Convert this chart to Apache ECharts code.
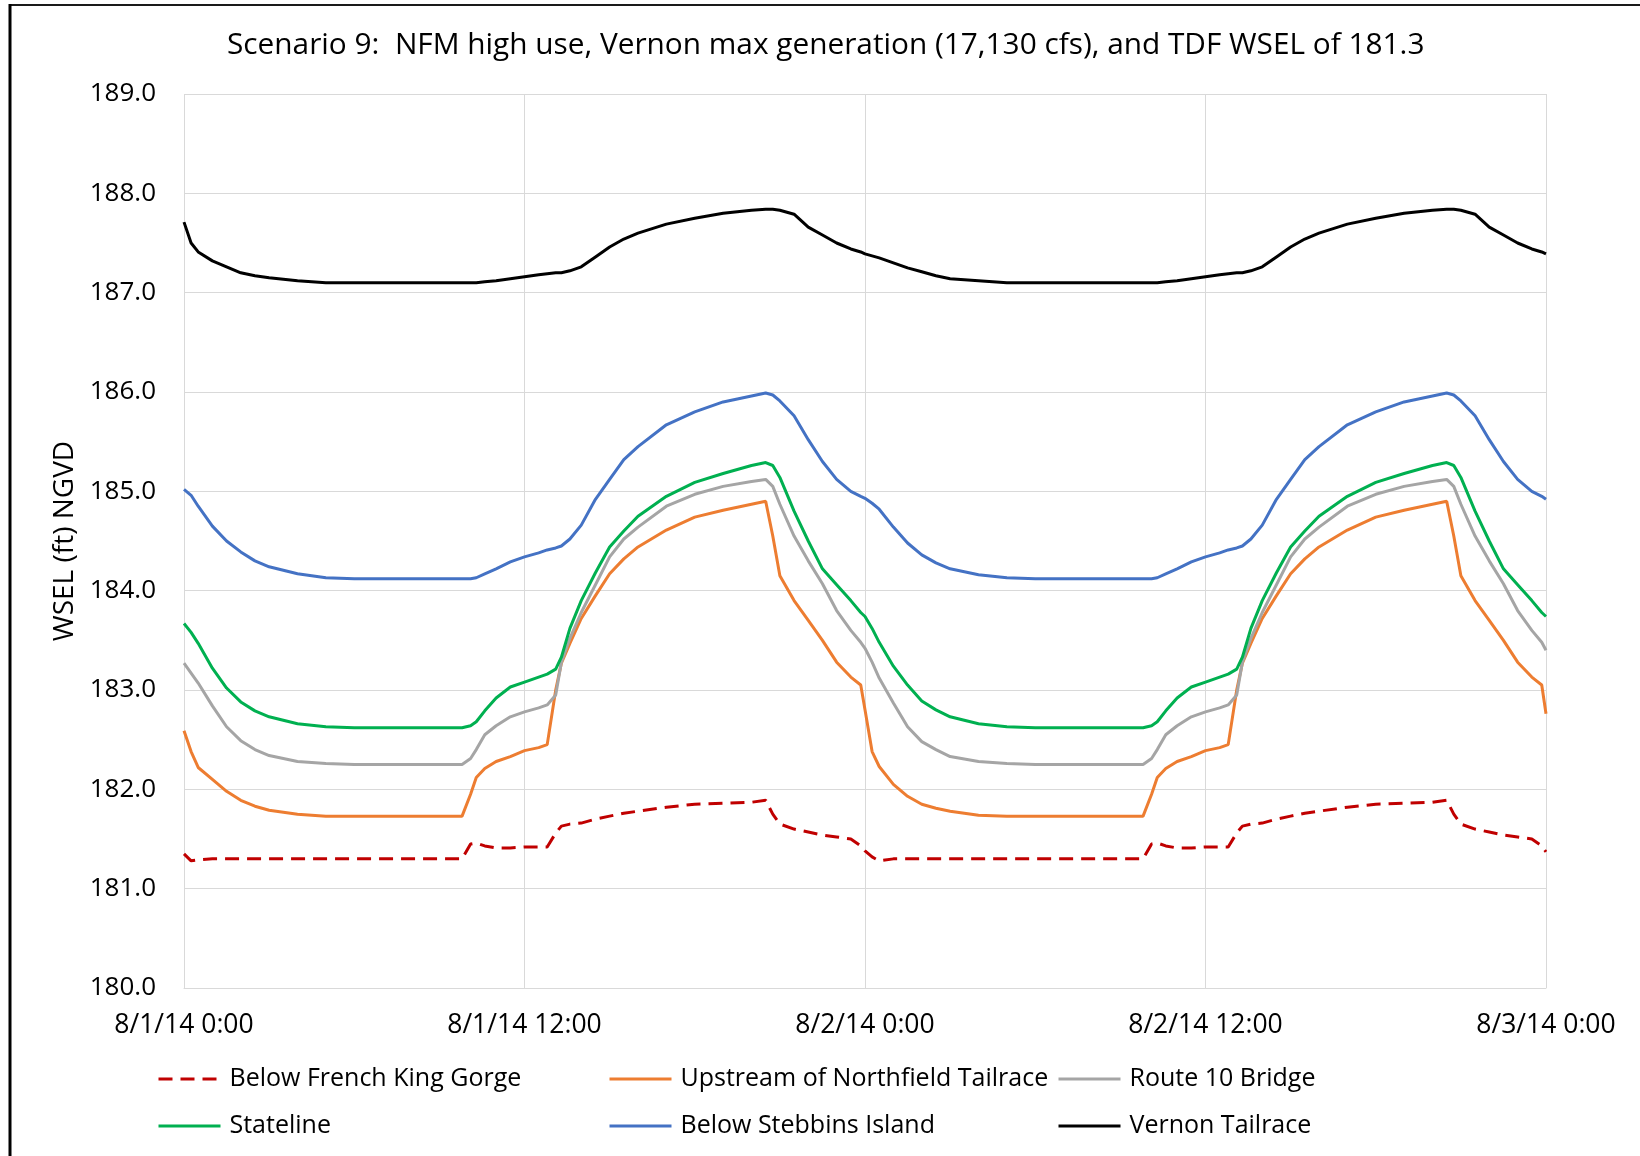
<!DOCTYPE html>
<html>
<head>
<meta charset="utf-8">
<title>Scenario 9 WSEL</title>
<script src="https://cdn.jsdelivr.net/npm/echarts@6/dist/echarts.min.js"></script>
<style>
  html, body { margin: 0; padding: 0; background: #ffffff; }
  #chart { width: 1640px; height: 1156px; }
</style>
</head>
<body>
<div id="chart"></div>
<script>
// Hours since 8/1/14 0:00
const hours = [
  0, 0.25, 0.5, 1, 1.5, 2, 2.5, 3, 4, 5, 6, 7, 8, 9, 9.8, 10.1, 10.3, 10.6, 11, 11.5, 12, 12.5, 12.8, 13.1, 13.3, 13.6, 14, 14.5, 15, 15.5, 16, 17, 18, 19, 20, 20.5, 20.75, 21, 21.5, 22, 22.5, 23, 23.5, 23.85,
  24, 24.25, 24.5, 25, 25.5, 26, 26.5, 27, 28, 29, 30, 31, 32, 33, 33.8, 34.1, 34.3, 34.6, 35, 35.5, 36, 36.5, 36.8, 37.1, 37.3, 37.6, 38, 38.5, 39, 39.5, 40, 41, 42, 43, 44, 44.5, 44.75, 45, 45.5, 46, 46.5, 47, 47.5, 47.85,
  48
];

// Water surface elevation (ft NGVD) at each station
const belowFrenchKingGorge = [
  181.35, 181.28, 181.29, 181.3, 181.3, 181.3, 181.3, 181.3, 181.3, 181.3, 181.3, 181.3, 181.3, 181.3, 181.3, 181.45, 181.46, 181.43, 181.41, 181.41, 181.42, 181.42, 181.42, 181.56, 181.63, 181.65, 181.66, 181.7, 181.73, 181.76, 181.78, 181.82, 181.85, 181.86, 181.87, 181.89, 181.75, 181.65, 181.6, 181.57, 181.54, 181.52, 181.5, 181.43,
  181.38, 181.32, 181.28, 181.3, 181.3, 181.3, 181.3, 181.3, 181.3, 181.3, 181.3, 181.3, 181.3, 181.3, 181.3, 181.45, 181.46, 181.43, 181.41, 181.41, 181.42, 181.42, 181.42, 181.56, 181.63, 181.65, 181.66, 181.7, 181.73, 181.76, 181.78, 181.82, 181.85, 181.86, 181.87, 181.89, 181.75, 181.65, 181.6, 181.57, 181.54, 181.52, 181.5, 181.43,
  181.37
];

const upstreamNorthfieldTailrace = [
  182.59, 182.38, 182.22, 182.1, 181.98, 181.89, 181.83, 181.79, 181.75, 181.73, 181.73, 181.73, 181.73, 181.73, 181.73, 181.95, 182.12, 182.21, 182.28, 182.33, 182.39, 182.42, 182.45, 183.0, 183.27, 183.47, 183.72, 183.95, 184.17, 184.32, 184.44, 184.61, 184.74, 184.81, 184.87, 184.9, 184.55, 184.15, 183.9, 183.7, 183.5, 183.28, 183.13, 183.05,
  182.8, 182.38, 182.23, 182.05, 181.93, 181.85, 181.81, 181.78, 181.74, 181.73, 181.73, 181.73, 181.73, 181.73, 181.73, 181.95, 182.12, 182.21, 182.28, 182.33, 182.39, 182.42, 182.45, 183.0, 183.27, 183.47, 183.72, 183.95, 184.17, 184.32, 184.44, 184.61, 184.74, 184.81, 184.87, 184.9, 184.55, 184.15, 183.9, 183.7, 183.5, 183.28, 183.13, 183.05,
  182.76
];

const route10Bridge = [
  183.27, 183.17, 183.07, 182.84, 182.63, 182.49, 182.4, 182.34, 182.28, 182.26, 182.25, 182.25, 182.25, 182.25, 182.25, 182.31, 182.4, 182.55, 182.64, 182.73, 182.78, 182.82, 182.85, 182.95, 183.28, 183.52, 183.78, 184.06, 184.34, 184.52, 184.64, 184.85, 184.97, 185.05, 185.1, 185.12, 185.05, 184.87, 184.55, 184.3, 184.07, 183.8, 183.6, 183.48,
  183.42, 183.28, 183.12, 182.87, 182.63, 182.48, 182.4, 182.33, 182.28, 182.26, 182.25, 182.25, 182.25, 182.25, 182.25, 182.31, 182.4, 182.55, 182.64, 182.73, 182.78, 182.82, 182.85, 182.95, 183.28, 183.52, 183.78, 184.06, 184.34, 184.52, 184.64, 184.85, 184.97, 185.05, 185.1, 185.12, 185.05, 184.87, 184.55, 184.3, 184.07, 183.8, 183.6, 183.48,
  183.4
];

const stateline = [
  183.67, 183.58, 183.47, 183.22, 183.02, 182.88, 182.79, 182.73, 182.66, 182.63, 182.62, 182.62, 182.62, 182.62, 182.62, 182.64, 182.68, 182.79, 182.92, 183.03, 183.08, 183.13, 183.16, 183.21, 183.33, 183.62, 183.9, 184.18, 184.44, 184.6, 184.75, 184.95, 185.09, 185.18, 185.26, 185.29, 185.26, 185.14, 184.8, 184.5, 184.22, 184.06, 183.9, 183.78,
  183.74, 183.62, 183.48, 183.24, 183.05, 182.89, 182.8, 182.73, 182.66, 182.63, 182.62, 182.62, 182.62, 182.62, 182.62, 182.64, 182.68, 182.79, 182.92, 183.03, 183.08, 183.13, 183.16, 183.21, 183.33, 183.62, 183.9, 184.18, 184.44, 184.6, 184.75, 184.95, 185.09, 185.18, 185.26, 185.29, 185.26, 185.14, 184.8, 184.5, 184.22, 184.06, 183.9, 183.78,
  183.74
];

const belowStebbinsIsland = [
  185.02, 184.96, 184.85, 184.65, 184.5, 184.39, 184.3, 184.24, 184.17, 184.13, 184.12, 184.12, 184.12, 184.12, 184.12, 184.12, 184.13, 184.17, 184.22, 184.29, 184.34, 184.38, 184.41, 184.43, 184.45, 184.52, 184.66, 184.92, 185.12, 185.32, 185.45, 185.67, 185.8, 185.9, 185.96, 185.99, 185.97, 185.91, 185.76, 185.52, 185.3, 185.12, 185.0, 184.95,
  184.93, 184.88, 184.82, 184.64, 184.48, 184.36, 184.28, 184.22, 184.16, 184.13, 184.12, 184.12, 184.12, 184.12, 184.12, 184.12, 184.13, 184.17, 184.22, 184.29, 184.34, 184.38, 184.41, 184.43, 184.45, 184.52, 184.66, 184.92, 185.12, 185.32, 185.45, 185.67, 185.8, 185.9, 185.96, 185.99, 185.97, 185.91, 185.76, 185.52, 185.3, 185.12, 185.0, 184.95,
  184.92
];

const vernonTailrace = [
  187.71, 187.5, 187.41, 187.32, 187.26, 187.2, 187.17, 187.15, 187.12, 187.1, 187.1, 187.1, 187.1, 187.1, 187.1, 187.1, 187.1, 187.11, 187.12, 187.14, 187.16, 187.18, 187.19, 187.2, 187.2, 187.22, 187.26, 187.36, 187.46, 187.54, 187.6, 187.69, 187.75, 187.8, 187.83, 187.84, 187.84, 187.83, 187.79, 187.66, 187.58, 187.5, 187.44, 187.41,
  187.39, 187.37, 187.35, 187.3, 187.25, 187.21, 187.17, 187.14, 187.12, 187.1, 187.1, 187.1, 187.1, 187.1, 187.1, 187.1, 187.1, 187.11, 187.12, 187.14, 187.16, 187.18, 187.19, 187.2, 187.2, 187.22, 187.26, 187.36, 187.46, 187.54, 187.6, 187.69, 187.75, 187.8, 187.83, 187.84, 187.84, 187.83, 187.79, 187.66, 187.58, 187.5, 187.44, 187.41,
  187.39
];

const xTickLabels = ['8/1/14 0:00', '8/1/14 12:00', '8/2/14 0:00', '8/2/14 12:00', '8/3/14 0:00'];

const chartTitle = 'Scenario 9:  NFM high use, Vernon max generation (17,130 cfs), and TDF WSEL of 181.3';

const FONT = 'Open Sans';

function pairs(values) {
  return hours.map((h, i) => [h, values[i]]);
}

function lineSeries(name, values, color, dashed) {
  return {
    name: name,
    type: 'line',
    data: pairs(values),
    symbol: 'none',
    smooth: false,
    lineStyle: { color: color, width: 3, type: dashed ? [14, 8] : 'solid', cap: 'butt' },
    itemStyle: { color: color }
  };
}

function legendColumn(left, names) {
  return {
    orient: 'vertical',
    left: left,
    top: 1064,
    padding: 0,
    data: names,
    itemWidth: 62,
    itemHeight: 3,
    itemGap: 17,
    itemStyle: { opacity: 0 },
    lineStyle: { width: 3 },
    textStyle: { fontFamily: FONT, fontSize: 25, color: '#000', lineHeight: 30, padding: [0, 0, 0, 4] }
  };
}

const chart = echarts.init(document.getElementById('chart'), null, { renderer: 'canvas' });

chart.setOption({
  backgroundColor: '#ffffff',
  animation: false,
  title: {
    text: chartTitle,
    left: 227,
    top: 31,
    padding: 0,
    textStyle: { fontFamily: FONT, fontSize: 29.8, fontWeight: 'normal', color: '#000' }
  },
  grid: { left: 184, right: 94, top: 94, bottom: 168 },
  xAxis: {
    type: 'value',
    min: 0,
    max: 48,
    interval: 12,
    axisLine: { show: true, lineStyle: { color: '#d9d9d9', width: 1 } },
    axisTick: { show: false },
    splitLine: { show: true, lineStyle: { color: '#d9d9d9', width: 1 } },
    axisLabel: {
      formatter: v => xTickLabels[Math.round(v / 12)],
      margin: 24,
      fontFamily: FONT,
      fontSize: 26.5,
      color: '#000',
      showMinLabel: true,
      showMaxLabel: true
    }
  },
  yAxis: {
    type: 'value',
    min: 180,
    max: 189,
    interval: 1,
    name: 'WSEL (ft) NGVD',
    nameLocation: 'middle',
    nameGap: 101,
    nameTextStyle: { fontFamily: FONT, fontSize: 28, color: '#000' },
    axisLine: { show: false },
    axisTick: { show: false },
    splitLine: { show: true, lineStyle: { color: '#d9d9d9', width: 1 } },
    axisLabel: {
      formatter: v => v.toFixed(1),
      margin: 28,
      fontFamily: FONT,
      fontSize: 26,
      color: '#000'
    }
  },
  legend: [
    legendColumn(157, ['Below French King Gorge', 'Stateline']),
    legendColumn(608, ['Upstream of Northfield Tailrace', 'Below Stebbins Island']),
    legendColumn(1057, ['Route 10 Bridge', 'Vernon Tailrace'])
  ],
  series: [
    lineSeries('Below French King Gorge', belowFrenchKingGorge, '#C00000', true),
    lineSeries('Upstream of Northfield Tailrace', upstreamNorthfieldTailrace, '#ED7D31', false),
    lineSeries('Route 10 Bridge', route10Bridge, '#A5A5A5', false),
    lineSeries('Stateline', stateline, '#00B050', false),
    lineSeries('Below Stebbins Island', belowStebbinsIsland, '#4472C4', false),
    lineSeries('Vernon Tailrace', vernonTailrace, '#000000', false)
  ],
  graphic: [
    { type: 'line', shape: { x1: 9, y1: 5, x2: 1640, y2: 5 }, style: { stroke: '#1a1a1a', lineWidth: 2 } },
    { type: 'line', shape: { x1: 10, y1: 4, x2: 10, y2: 1156 }, style: { stroke: '#000000', lineWidth: 3 } }
  ]
});
</script>
</body>
</html>
